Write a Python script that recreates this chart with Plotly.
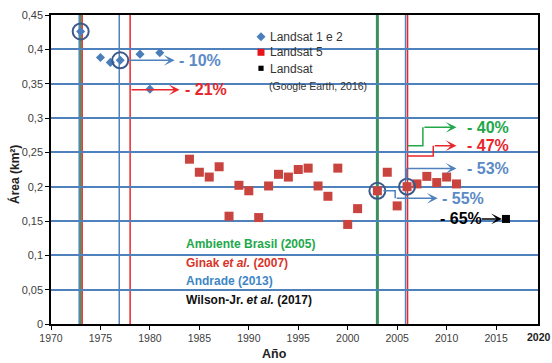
import plotly.graph_objects as go

# ---------------- data ----------------
years_l12 = [1973, 1975, 1976, 1977, 1979, 1980, 1981]
area_l12 = [0.426, 0.388, 0.381, 0.384, 0.393, 0.342, 0.395]

years_l5 = [1984, 1985, 1986, 1987, 1988, 1989, 1990, 1991, 1992, 1993, 1994,
            1995, 1996, 1997, 1998, 1999, 2000, 2001, 2003, 2004, 2005, 2006,
            2007, 2008, 2009, 2010, 2011]
area_l5 = [0.240, 0.221, 0.214, 0.229, 0.157, 0.202, 0.194, 0.155, 0.201, 0.218,
           0.214, 0.225, 0.227, 0.201, 0.186, 0.227, 0.145, 0.168, 0.194, 0.221,
           0.172, 0.200, 0.204, 0.215, 0.206, 0.214, 0.204]

years_ge = [2016]
area_ge = [0.153]

circled_years = [1973, 1977, 2003, 2006]

x_ticks = [1970, 1975, 1980, 1985, 1990, 1995, 2000, 2005, 2010, 2015]

legend_names = ["Landsat 1 e 2", "Landsat 5", "Landsat"]
legend_note = "(Google Earth, 2016)"

# study reference lines (years, drawn slightly offset where overlapping)
blue_lines = [1972.85, 1976.9, 2005.85]
green_lines = [1973.0, 2003.0]
red_lines = [1973.15, 1978.0, 2006.05]

studies = ["Ambiente Brasil (2005)", "Ginak <i>et al.</i> (2007)",
           "Andrade (2013)", "Wilson-Jr. <i>et al.</i> (2017)"]
study_colors = ["#22a84a", "#d9342b", "#3d86c6", "#111111"]

BLUE = "#4f81bd"
RED = "#e8262b"
GREEN = "#22a84a"
TXTBLUE = "#5b8ac6"
FONT = "Arial, Liberation Sans, sans-serif"

vals_l12 = dict(zip(years_l12, area_l12))
vals_l5 = dict(zip(years_l5, area_l5))
circ_vals = [vals_l12[y] if y in vals_l12 else vals_l5[y] for y in circled_years]

L, R, T, B, W, H = 51, 14, 15, 39, 552, 363
pw, ph = W - L - R, H - T - B
def px2paper(px, py):
    return (px - L) / pw, (H - B - py) / ph

fig = go.Figure()

fig.add_trace(go.Scatter(x=years_l12, y=area_l12, mode="markers", name=legend_names[0],
                         showlegend=False,
                         marker=dict(symbol="diamond", size=7, color="#4a7ebb")))
fig.add_trace(go.Scatter(x=years_l5, y=area_l5, mode="markers", name=legend_names[1],
                         showlegend=False,
                         marker=dict(symbol="square", size=9, color="#c9443f")))
fig.add_trace(go.Scatter(x=years_ge, y=area_ge, mode="markers", name=legend_names[2],
                         showlegend=False,
                         marker=dict(symbol="square", size=8, color="black")))
fig.add_trace(go.Scatter(x=circled_years, y=circ_vals, mode="markers", showlegend=False,
                         marker=dict(symbol="circle-open", size=16,
                                     line=dict(color="#3b5a8a", width=2), color="#3b5a8a")))

shapes = []
for xv in blue_lines:
    shapes.append(dict(type="line", xref="x", yref="paper", x0=xv, x1=xv, y0=0, y1=1,
                       line=dict(color=BLUE, width=1.5), layer="below"))
for i, xv in enumerate(green_lines):
    shapes.append(dict(type="line", xref="x", yref="paper", x0=xv, x1=xv, y0=0, y1=1,
                       line=dict(color="#3a9a62" if i == 0 else "#3d8f60", width=2 if i == 0 else 3),
                       layer="below"))
for xv in red_lines:
    shapes.append(dict(type="line", xref="x", yref="paper", x0=xv, x1=xv, y0=0, y1=1,
                       line=dict(color=RED, width=1.5), layer="below"))

# elbow connectors (data coordinates)
def poly(pts, color):
    d = "M " + " L ".join(f"{x},{y}" for x, y in pts)
    shapes.append(dict(type="path", xref="x", yref="y", path=d,
                       line=dict(color=color, width=1.5)))

poly([(2006.1, 0.2597), (2007.6, 0.2597), (2007.6, 0.2864)], GREEN)
poly([(2006.1, 0.2447), (2008.65, 0.2447), (2008.65, 0.2597)], RED)
poly([(2005.95, 0.2097), (2005.95, 0.2265)], BLUE)
poly([(2003.6, 0.194), (2004.8, 0.194), (2004.8, 0.183)], BLUE)

# legend symbols (paper coordinates)
def ppath(pts):
    return "M " + " L ".join("{},{}".format(*px2paper(x, y)) for x, y in pts) + " Z"

lx = 261
shapes.append(dict(type="path", xref="paper", yref="paper",
                   path=ppath([(lx - 4.5, 36.7), (lx, 32.2), (lx + 4.5, 36.7), (lx, 41.2)]),
                   fillcolor="#4a7ebb", line=dict(width=0)))
shapes.append(dict(type="path", xref="paper", yref="paper",
                   path=ppath([(lx - 3.5, 48.8), (lx + 3.5, 48.8), (lx + 3.5, 55.8), (lx - 3.5, 55.8)]),
                   fillcolor="#e8141b", line=dict(width=0)))
shapes.append(dict(type="path", xref="paper", yref="paper",
                   path=ppath([(lx - 2.6, 65.7), (lx + 2.6, 65.7), (lx + 2.6, 70.9), (lx - 2.6, 70.9)]),
                   fillcolor="black", line=dict(width=0)))

annotations = []

def arrow(x0, x1, y, color):
    annotations.append(dict(x=x1, y=y, ax=x0, ay=y, xref="x", yref="y", axref="x", ayref="y",
                            text="", showarrow=True, arrowhead=3, arrowsize=1.2,
                            arrowwidth=1.5, arrowcolor=color))

def label(x, y, text, color, size=16):
    annotations.append(dict(x=x, y=y, xref="x", yref="y", text=f"<b>{text}</b>",
                            showarrow=False, xanchor="left", yanchor="middle",
                            font=dict(size=size, color=color, family=FONT)))

def ptext(px, py, text, size, color="#222", xanchor="left", angle=0):
    x, y = px2paper(px, py)
    annotations.append(dict(x=x, y=y, xref="paper", yref="paper", text=text,
                            showarrow=False, xanchor=xanchor, yanchor="middle",
                            textangle=angle, font=dict(size=size, color=color, family=FONT)))

arrow(1977.8, 1982.5, 0.384, BLUE); label(1982.7, 0.384, "- 10%", TXTBLUE)
arrow(1978.0, 1983.0, 0.341, RED); label(1983.3, 0.341, "- 21%", RED)
arrow(2007.6, 2011.0, 0.2864, GREEN); label(2011.85, 0.2864, "- 40%", GREEN)
arrow(2008.65, 2011.0, 0.2597, RED); label(2011.85, 0.2597, "- 47%", RED)
arrow(2005.95, 2011.0, 0.2265, BLUE); label(2011.85, 0.2265, "- 53%", TXTBLUE)
arrow(2004.8, 2009.1, 0.183, BLUE); label(2009.3, 0.183, "- 55%", TXTBLUE)
label(2009.1, 0.153, "- 65%", "black")
arrow(2013.4, 2015.6, 0.153, "black")

study_y = [0.1165, 0.0888, 0.0626, 0.035]
for txt, col, yv in zip(studies, study_colors, study_y):
    label(1983.4, yv, txt, col, size=12)

# legend texts
ptext(268, 36.7, legend_names[0], 12, "#333")
ptext(268, 52.3, legend_names[1], 12, "#333")
ptext(268, 68.5, legend_names[2], 12, "#333")
ptext(267, 86.2, legend_note, 10.5, "#333")

# axis titles and lone 2020 label
ptext(274, 354, "<b>Año</b>", 12.5, "#222", xanchor="center")
ptext(14, 175, "<b>Área (km²)</b>", 12, "#222", xanchor="center", angle=-90)
ptext(539, 336.5, "<b>2020</b>", 10.5, "#222", xanchor="center")

fig.update_layout(
    template="none",
    width=W, height=H,
    margin=dict(l=L, r=R, t=T, b=B, autoexpand=False),
    paper_bgcolor="white", plot_bgcolor="white",
    separators=",.",
    showlegend=False,
    font=dict(family=FONT, color="#404040"),
    shapes=shapes, annotations=annotations,
    xaxis=dict(range=[1970, 2019.24], tickvals=x_ticks, showgrid=False, zeroline=False,
               automargin=False,
               showline=True, linecolor="black", linewidth=1.5, mirror=True,
               ticks="outside", ticklen=4, tickcolor="black",
               tickfont=dict(size=10.5, color="#404040")),
    yaxis=dict(range=[0, 0.45], dtick=0.05, showgrid=True, gridcolor=BLUE, gridwidth=1.5,
               zeroline=False, automargin=False, showline=True, linecolor="black",
               linewidth=1.5, mirror=True,
               ticks="outside", ticklen=4, tickcolor="black",
               tickfont=dict(size=11, color="#404040")),
)

fig.write_html("out.html", config={"displayModeBar": False},
               post_script="document.body.style.margin='0';document.body.style.padding='0';")
